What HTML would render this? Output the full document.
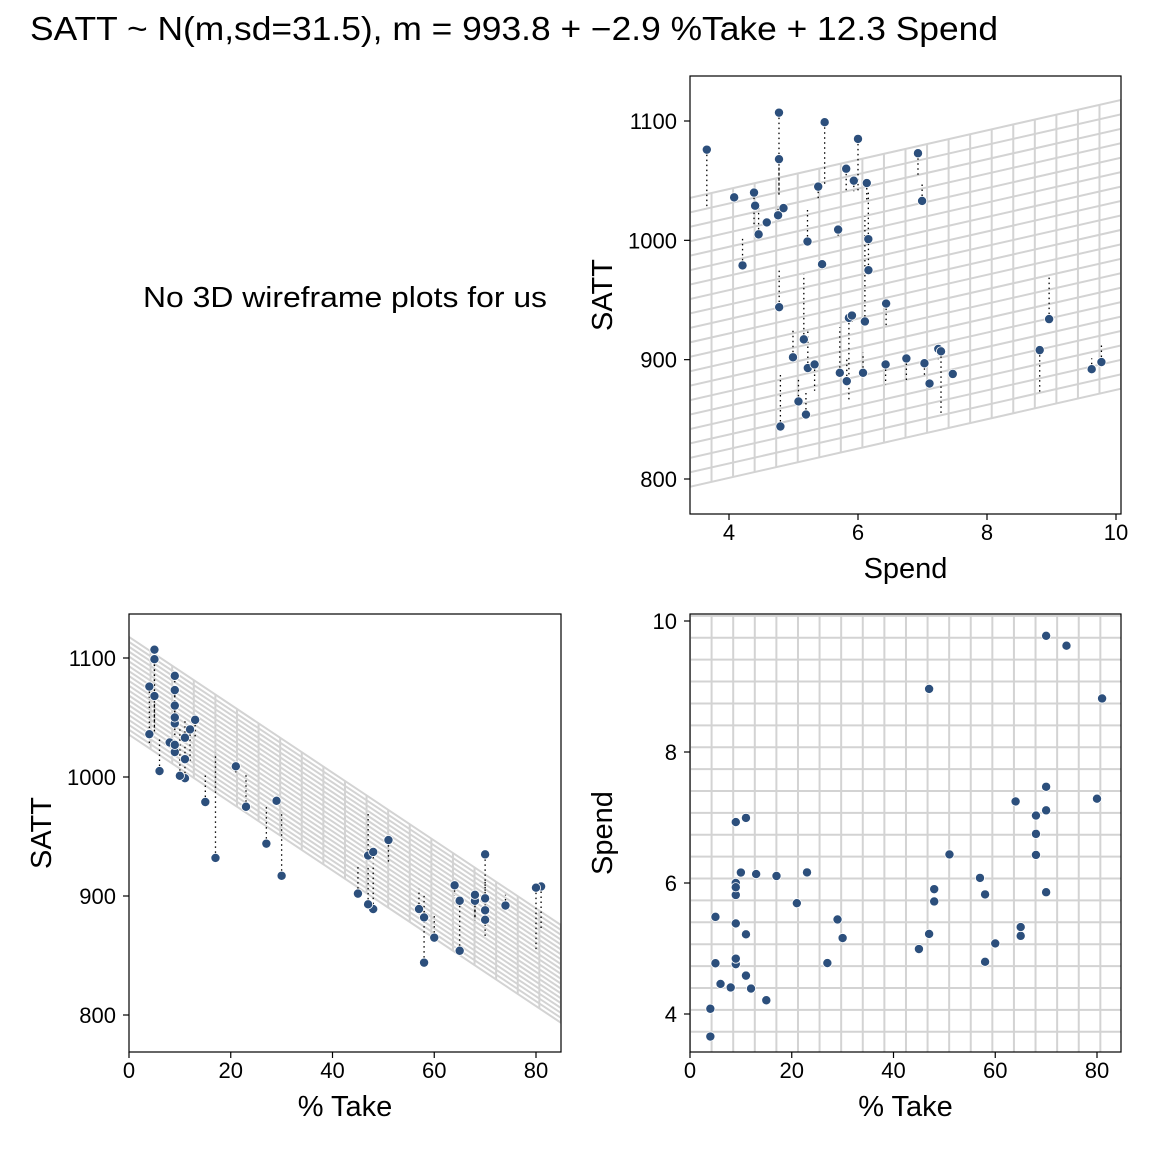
<!DOCTYPE html>
<html><head><meta charset="utf-8">
<style>
body{margin:0;background:#fff;}
svg text{font-family:"Liberation Sans",Arial,sans-serif;fill:#000;}
</style></head>
<body>
<svg id="chart" width="1152" height="1152" xmlns="http://www.w3.org/2000/svg">
<rect width="1152" height="1152" fill="#fff"/>
<text x="30" y="40" font-size="33" textLength="968" lengthAdjust="spacingAndGlyphs">SATT ~ N(m,sd=31.5), m = 993.8 + −2.9 %Take + 12.3 Spend</text>
<text x="143" y="307" font-size="29" textLength="404" lengthAdjust="spacingAndGlyphs">No 3D wireframe plots for us</text>
<g id="g"></g>
</svg>
<script>
const spend=[4.405,8.963,4.778,4.459,4.992,5.443,8.817,7.030,5.718,5.193,6.078,4.210,6.136,5.826,5.483,5.817,5.217,4.761,6.428,7.245,7.287,6.994,6.000,4.080,5.383,5.692,5.935,5.160,5.859,9.774,4.586,9.623,5.077,4.775,6.162,4.845,6.436,7.109,7.469,4.797,4.775,4.388,5.222,3.656,6.750,5.327,5.906,6.107,6.930,6.160];
const take=[8,47,27,6,45,29,81,68,48,65,57,15,13,58,5,9,11,9,68,64,80,11,9,4,9,21,9,30,70,70,11,74,60,5,23,9,51,70,70,58,5,12,47,4,68,65,48,17,9,10];
const satt=[1029,934,944,1005,902,980,908,897,889,854,889,979,1048,882,1099,1060,999,1021,896,909,907,1033,1085,1036,1045,1009,1050,917,935,898,1015,892,865,1107,975,1027,947,880,888,844,1068,1040,893,1076,901,896,937,932,1073,1001];
const coef=[993.832,-2.851,12.287];
const tickSat=[800,900,1000,1100];
const tickSpend=[4,6,8,10];
const tickTake=[0,20,40,60,80];

const NS="http://www.w3.org/2000/svg";
const G=document.getElementById('g');
function el(tag,attrs,parent){const e=document.createElementNS(NS,tag);for(const k in attrs)e.setAttribute(k,attrs[k]);(parent||G).appendChild(e);return e;}
function lin(d0,d1,r0,r1){return v=>r0+(v-d0)*(r1-r0)/(d1-d0);}
function fit(t,s){return coef[0]+coef[1]*t+coef[2]*s;}
const spRange=[3.395,10.078], tkRange=[0,84.9];
const NG=20;

function panel(name,box,xs,ys,xt,yt,xlab,ylab,drawGrid,xv,yv,resid){
  const g=el('g',{});
  
  
  const cp=el('clipPath',{id:'cp-'+name},g);
  el('rect',{x:box[0],y:box[1],width:box[2]-box[0],height:box[3]-box[1]},cp);
  const inner=el('g',{'clip-path':'url(#cp-'+name+')'},g);
  drawGrid(inner);
  if(resid){for(let i=0;i<xv.length;i++){const l=el('line',{x1:xs(xv[i]),x2:xs(xv[i]),y1:ys(yv[i]),y2:ys(resid[i]),stroke:'#000','stroke-width':1.3,'stroke-dasharray':'1.5 3.5'},inner);}}
  for(let i=0;i<xv.length;i++){const c=el('circle',{cx:xs(xv[i]),cy:ys(yv[i]),r:4.6,fill:'#2c4f7c',stroke:'#fff','stroke-width':0.8},inner);}
  el('rect',{x:box[0],y:box[1],width:box[2]-box[0],height:box[3]-box[1],fill:'none',stroke:'#000','stroke-width':1.2},g);
  xt.forEach(v=>{const x=xs(v);el('line',{x1:x,x2:x,y1:box[3],y2:box[3]+6,stroke:'#000','stroke-width':1.2},g);const t=el('text',{x:x,y:box[3]+26,'font-size':22,'text-anchor':'middle'},g);t.textContent=v;});
  yt.forEach(v=>{const y=ys(v);el('line',{x1:box[0]-6,x2:box[0],y1:y,y2:y,stroke:'#000','stroke-width':1.2},g);const t=el('text',{x:box[0]-13,y:y+8,'font-size':22,'text-anchor':'end'},g);t.textContent=v;});
  const xl=el('text',{x:(box[0]+box[2])/2,y:box[3]+64,'font-size':29,'text-anchor':'middle'},g);xl.textContent=xlab;
  
  const cy=(box[1]+box[3])/2, cx=box[0]-78;
  const yl=el('text',{x:cx,y:cy,'font-size':29,'text-anchor':'middle',transform:`rotate(-90 ${cx} ${cy})`},g);yl.textContent=ylab;
  
}
const gl={stroke:'#d3d3d3','stroke-width':2,fill:'none'};
const fitted=take.map((t,i)=>fit(t,spend[i]));

{const box=[690,76,1121,514];const xs=lin(4,10,729,1116),ys=lin(800,1100,479,121);
panel('satt-vs-spend',box,xs,ys,tickSpend,tickSat,'Spend','SATT',inner=>{
  for(let i=0;i<=NG;i++){const t=tkRange[0]+(tkRange[1]-tkRange[0])*i/NG;
    el('line',Object.assign({x1:xs(spRange[0]),y1:ys(fit(t,spRange[0])),x2:xs(spRange[1]),y2:ys(fit(t,spRange[1]))},gl),inner);}
  for(let i=0;i<=NG;i++){const s=spRange[0]+(spRange[1]-spRange[0])*i/NG;
    el('line',Object.assign({x1:xs(s),y1:ys(fit(tkRange[0],s)),x2:xs(s),y2:ys(fit(tkRange[1],s))},gl),inner);}
},spend,satt,fitted);}

{const box=[129,614,561,1052];const xs=lin(0,80,129,536),ys=lin(800,1100,1015,658);
panel('satt-vs-take',box,xs,ys,tickTake,tickSat,'% Take','SATT',inner=>{
  for(let i=0;i<=NG;i++){const s=spRange[0]+(spRange[1]-spRange[0])*i/NG;
    el('line',Object.assign({x1:xs(tkRange[0]),y1:ys(fit(tkRange[0],s)),x2:xs(tkRange[1]),y2:ys(fit(tkRange[1],s))},gl),inner);}
  for(let i=0;i<=NG;i++){const t=tkRange[0]+(tkRange[1]-tkRange[0])*i/NG;
    el('line',Object.assign({x1:xs(t),y1:ys(fit(t,spRange[0])),x2:xs(t),y2:ys(fit(t,spRange[1]))},gl),inner);}
},take,satt,fitted);}

{const box=[690,614,1121,1052];const xs=lin(0,80,690,1097),ys=lin(4,10,1014,621);
panel('spend-vs-take',box,xs,ys,tickTake,tickSpend,'% Take','Spend',inner=>{
  for(let i=0;i<=NG;i++){const s=spRange[0]+(spRange[1]-spRange[0])*i/NG;
    el('line',Object.assign({x1:xs(tkRange[0]),y1:ys(s),x2:xs(tkRange[1]),y2:ys(s)},gl),inner);}
  for(let i=0;i<=NG;i++){const t=tkRange[0]+(tkRange[1]-tkRange[0])*i/NG;
    el('line',Object.assign({x1:xs(t),y1:ys(spRange[0]),x2:xs(t),y2:ys(spRange[1])},gl),inner);}
},take,spend,null);}
</script>
</body></html>
